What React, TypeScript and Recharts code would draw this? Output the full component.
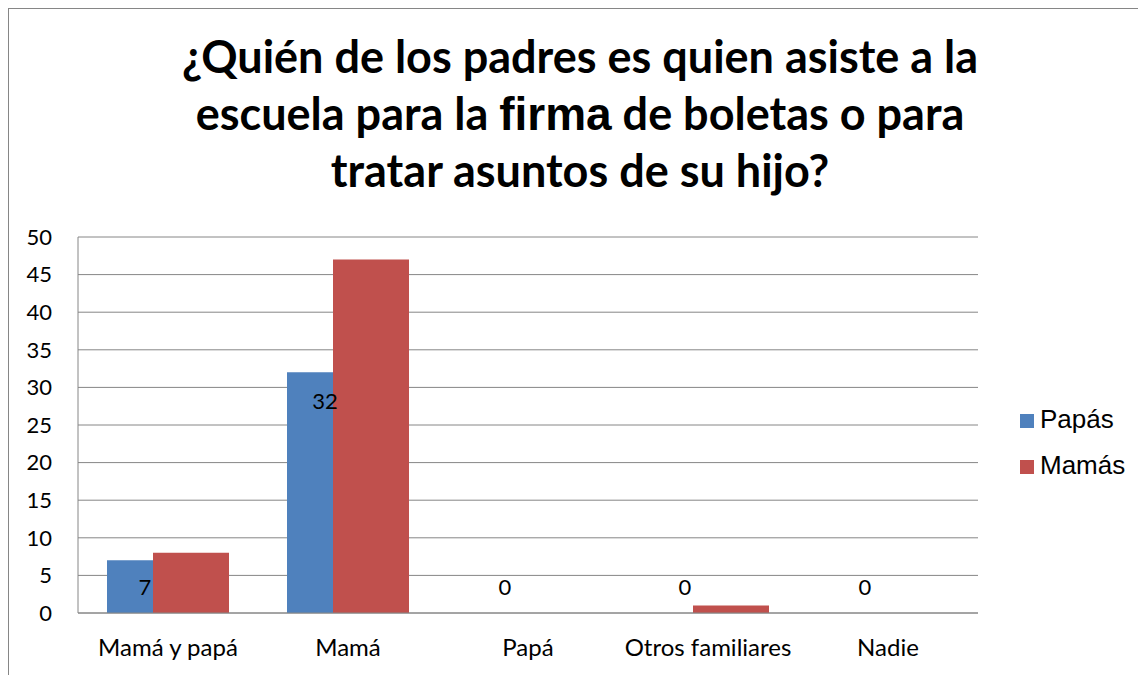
import React from 'react';
import { BarChart, Bar, XAxis, YAxis, CartesianGrid, Legend, LabelList } from 'recharts';

const categories = ['Mamá y papá', 'Mamá', 'Papá', 'Otros familiares', 'Nadie'];
const papas = [7, 32, 0, 0, 0];
const mamas = [8, 47, 0, 1, 0];
const yTicks = [0, 5, 10, 15, 20, 25, 30, 35, 40, 45, 50];
const seriesNames = ['Papás', 'Mamás'];
const seriesColors = ['#4F81BD', '#C0504D'];
const titleLine1 = '¿Quién de los padres es quien asiste a la';
const titleLine2a = 'escuela para la ';
const titleLine2b = 'firma';
const titleLine2c = ' de boletas o para';
const titleLine3 = 'tratar asuntos de su hijo?';

const data = categories.map((c, i) => ({ name: c, papas: papas[i], mamas: mamas[i] }));

const GRID = '#868686';

const PapaLabel = (props: any) => {
  const { x, y, width, height, value } = props;
  const top = Math.min(y, y + height);
  const base = Math.max(y, y + height);
  const cy = Math.min(top + 29, base - 26);
  return (
    <text x={x + width / 2} y={cy + 8} textAnchor="middle" fontSize={22} fontFamily="Lato" fill="#000">
      {value}
    </text>
  );
};

const LegendContent = () => (
  <div style={{ fontFamily: '"Liberation Sans", Arial, sans-serif', fontSize: 26, color: '#000' }}>
    {seriesNames.map((n, i) => (
      <div key={n} style={{ lineHeight: '46px', whiteSpace: 'nowrap' }}>
        <span style={{ display: 'inline-block', width: 14, height: 14, background: seriesColors[i], marginRight: 6, verticalAlign: 'baseline' }} />
        {n}
      </div>
    ))}
  </div>
);

export default function App() {
  return (
    <div
      style={{
        position: 'relative',
        width: 1138,
        height: 667,
        borderTop: `1px solid ${GRID}`,
        borderLeft: `1px solid ${GRID}`,
        boxSizing: 'border-box',
        background: '#fff',
        overflow: 'hidden',
      }}
    >
      <svg
        width={1137}
        height={215}
        style={{ position: 'absolute', left: 0, top: 0, zIndex: 2, pointerEvents: 'none' }}
      >
        <g fontFamily="Lato, sans-serif" fontWeight={700} fontSize={45} fill="#000" textAnchor="middle">
          <text x={571} y={64}>{titleLine1}</text>
          <text x={571} y={121}>
            {titleLine2a}
            <tspan fontFamily='"Liberation Sans", Arial, sans-serif' fontSize={46}>{titleLine2b}</tspan>
            {titleLine2c}
          </text>
          <text x={571} y={178}>{titleLine3}</text>
        </g>
      </svg>
      <BarChart
        width={1137}
        height={666}
        data={data}
        margin={{ top: 228, right: 168, bottom: 22, left: 9 }}
        barSize={76}
        barGap={-30}
        style={{ fontFamily: 'Lato, sans-serif' }}
      >
        <CartesianGrid vertical={false} stroke={GRID} strokeWidth={1} />
        <XAxis
          dataKey="name"
          height={40}
          tickLine={false}
          tickSize={0}
          tickMargin={26}
          axisLine={{ stroke: GRID }}
          tick={{ fill: '#000', fontSize: 24, fontFamily: 'Lato' }}
          interval={0}
        />
        <YAxis
          width={60}
          domain={[0, 50]}
          ticks={yTicks}
          interval={0}
          tickLine={false}
          tickSize={0}
          tickMargin={26}
          axisLine={{ stroke: GRID }}
          tick={{ fill: '#000', fontSize: 22, fontFamily: 'Lato' }}
        />
        <Legend
          content={<LegendContent />}
          wrapperStyle={{ left: 1011, top: 387, width: 0, height: 0, overflow: 'visible' }}
        />
        <Bar dataKey="papas" name={seriesNames[0]} fill={seriesColors[0]} minPointSize={0.001} isAnimationActive={false}>
          <LabelList dataKey="papas" content={<PapaLabel />} />
        </Bar>
        <Bar dataKey="mamas" name={seriesNames[1]} fill={seriesColors[1]} isAnimationActive={false} />
      </BarChart>
    </div>
  );
}
